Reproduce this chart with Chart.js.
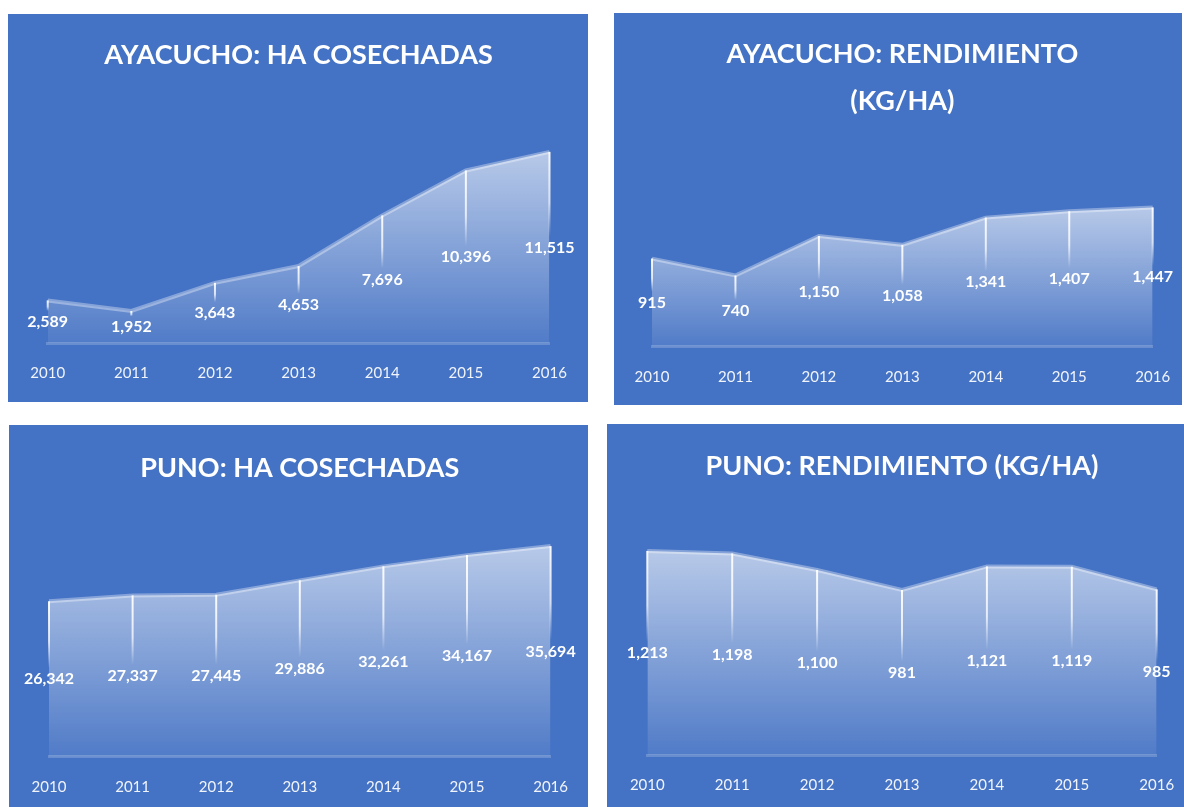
<!DOCTYPE html>
<html>
<head>
<meta charset="utf-8">
<script src="https://cdn.jsdelivr.net/npm/chart.js@4.4.1/dist/chart.umd.min.js"></script>
<style>
  body { margin: 0; background: #fff; width: 1184px; height: 807px; position: relative; overflow: hidden; }
  .panel { position: absolute; background: #4472C4; }
  .panel canvas { display: block; }
</style>
</head>
<body>
<div class="panel" id="p1" style="left:8px;top:14px;width:580px;height:388px"><canvas id="c1"></canvas></div>
<div class="panel" id="p2" style="left:614px;top:13px;width:568px;height:392px"><canvas id="c2"></canvas></div>
<div class="panel" id="p3" style="left:9px;top:425px;width:579px;height:382px"><canvas id="c3"></canvas></div>
<div class="panel" id="p4" style="left:607px;top:424px;width:577px;height:383px"><canvas id="c4"></canvas></div>
<script>
// data
const years = ['2010', '2011', '2012', '2013', '2014', '2015', '2016'];
const ayacuchoHa = [2589, 1952, 3643, 4653, 7696, 10396, 11515];
const ayacuchoRend = [915, 740, 1150, 1058, 1341, 1407, 1447];
const punoHa = [26342, 27337, 27445, 29886, 32261, 34167, 35694];
const punoRend = [1213, 1198, 1100, 981, 1121, 1119, 985];

const FONT = "Lato, 'Open Sans', sans-serif";
const TICK_PAD = 6;

// drop lines + value labels (labels sit at half the value, like excel's "center")
const areaDecor = {
  id: 'areaDecor',
  afterDatasetsDraw(chart) {
    const ctx = chart.ctx;
    const xs = chart.scales.x, ys = chart.scales.y;
    const vals = chart.data.datasets[0].data;
    ctx.save();
    vals.forEach((v, i) => {
      const x = xs.getPixelForValue(i);
      const yTop = ys.getPixelForValue(v);
      const yEnd = ys.getPixelForValue(v / 2) - 11;
      if (yEnd > yTop) {
        const g = ctx.createLinearGradient(0, yTop, 0, yEnd);
        g.addColorStop(0, 'rgba(255,255,255,0.95)');
        g.addColorStop(0.6, 'rgba(255,255,255,0.75)');
        g.addColorStop(1, 'rgba(255,255,255,0)');
        ctx.strokeStyle = g;
        ctx.lineWidth = 2;
        ctx.beginPath();
        ctx.moveTo(x, yTop);
        ctx.lineTo(x, yEnd);
        ctx.stroke();
      }
    });
    ctx.fillStyle = '#ffffff';
    ctx.font = 'bold 16px ' + FONT;
    ctx.textAlign = 'center';
    ctx.textBaseline = 'middle';
    vals.forEach((v, i) => {
      const x = xs.getPixelForValue(i);
      const y = ys.getPixelForValue(v / 2);
      ctx.fillText(v.toLocaleString('en-US'), x, y);
    });
    ctx.restore();
  }
};

function makeChart(id, values, title, yMax, lay) {
  // tall tick line height pushes the year labels down without a big tick padding
  // (a big padding also widens the side padding chart.js asks for)
  const tickLH = 2 * (lay.labelY - lay.axisY - TICK_PAD);
  const h = document.getElementById(id).parentNode.clientHeight;
  const bottomPad = h - lay.axisY - tickLH - 2 * TICK_PAD;
  new Chart(document.getElementById(id), {
    type: 'line',
    data: {
      labels: years,
      datasets: [{
        data: values,
        fill: 'origin',
        tension: 0,
        pointRadius: 0,
        borderWidth: 4,
        borderColor: 'rgba(255,255,255,0.35)',
        backgroundColor: (c) => {
          const chart = c.chart;
          const area = chart.chartArea;
          if (!area) return 'rgba(255,255,255,0.3)';
          const top = chart.scales.y.getPixelForValue(Math.max(...values));
          const g = chart.ctx.createLinearGradient(0, top, 0, area.bottom);
          g.addColorStop(0, 'rgba(255,255,255,0.62)');
          g.addColorStop(1, 'rgba(255,255,255,0.07)');
          return g;
        }
      }]
    },
    options: {
      responsive: true,
      maintainAspectRatio: false,
      animation: false,
      layout: { padding: { left: lay.left, right: lay.right, top: 0, bottom: bottomPad } },
      plugins: {
        legend: { display: false },
        tooltip: { enabled: false },
        title: {
          display: true,
          text: title,
          color: '#ffffff',
          font: { family: FONT, size: 27, weight: 'bold', lineHeight: lay.titleLH },
          padding: { top: lay.titleTop, bottom: lay.titleBottom }
        }
      },
      scales: {
        x: {
          grid: { display: false, drawTicks: false },
          border: { display: true, color: 'rgba(255,255,255,0.2)', width: 3 },
          ticks: {
            color: 'rgba(255,255,255,0.92)',
            font: { family: FONT, size: 15, lineHeight: tickLH / 15 },
            padding: TICK_PAD,
            maxRotation: 0
          }
        },
        y: { display: false, min: 0, max: yMax }
      }
    },
    plugins: [areaDecor]
  });
}

makeChart('c1', ayacuchoHa, 'AYACUCHO: HA COSECHADAS', 14000,
  { left: 39.7, right: 38.5, axisY: 329.5, labelY: 359, titleLH: 1.2, titleTop: 25.3, titleBottom: 38.8 });
makeChart('c2', ayacuchoRend, ['AYACUCHO: RENDIMIENTO', '(KG/HA)'], 1600,
  { left: 38, right: 29.3, axisY: 333.7, labelY: 363.7, titleLH: 1.72, titleTop: 18.3, titleBottom: 68.5 });
makeChart('c3', punoHa, 'PUNO: HA COSECHADAS', 40000,
  { left: 40, right: 37.4, axisY: 331.7, labelY: 361.7, titleLH: 1.2, titleTop: 26.8, titleBottom: 36.5 });
makeChart('c4', punoRend, 'PUNO: RENDIMIENTO (KG/HA)', 1400,
  { left: 40.3, right: 27.3, axisY: 331.3, labelY: 361, titleLH: 1.2, titleTop: 25.8, titleBottom: 37.2 });
</script>
</body>
</html>
